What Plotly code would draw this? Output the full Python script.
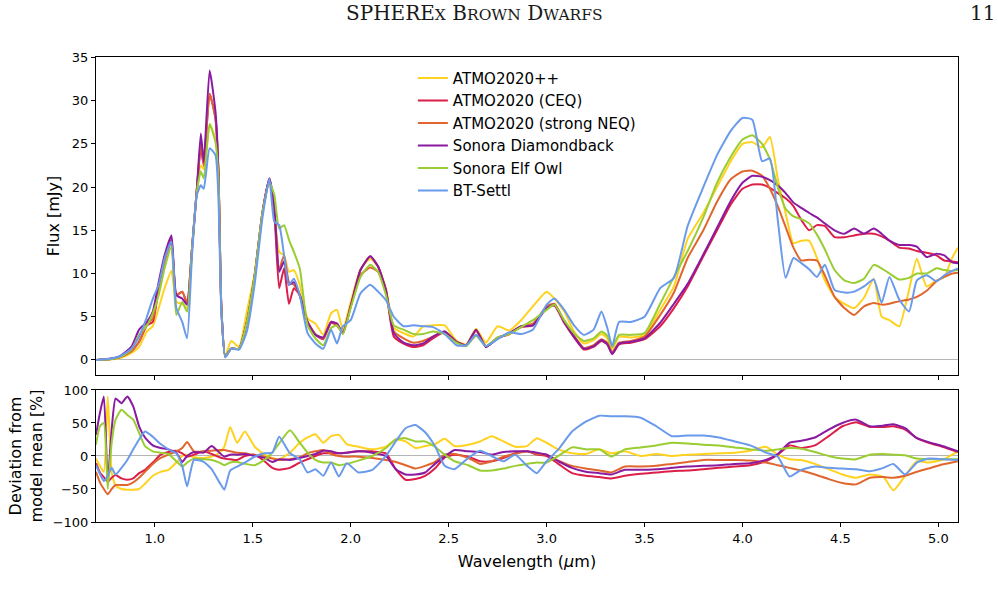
import plotly.graph_objects as go

# ---------------- top panel: model spectra (mJy) ----------------
wavelength = [
    0.70, 0.76, 0.82, 0.88, 0.92, 0.96, 0.99, 1.02, 1.05, 1.085,
    1.11, 1.14, 1.165, 1.19, 1.215, 1.235, 1.25, 1.28, 1.31, 1.325,
    1.34, 1.36, 1.39, 1.43, 1.47, 1.51, 1.55, 1.585, 1.61, 1.635,
    1.66, 1.685, 1.71, 1.74, 1.78, 1.82, 1.86, 1.90, 1.93, 1.96,
    2.00, 2.05, 2.10, 2.14, 2.18, 2.22, 2.27, 2.32, 2.37, 2.42,
    2.48, 2.54, 2.59, 2.64, 2.69, 2.75, 2.81, 2.87, 2.93, 3.00,
    3.04, 3.09, 3.14, 3.19, 3.24, 3.28, 3.31, 3.335, 3.37, 3.43,
    3.50, 3.58, 3.65, 3.72, 3.80, 3.87, 3.94, 4.00, 4.05, 4.10,
    4.14, 4.18, 4.22, 4.26, 4.30, 4.34, 4.38, 4.42, 4.47, 4.52,
    4.57, 4.62, 4.67, 4.71, 4.75, 4.80, 4.85, 4.89, 4.94, 4.99,
    5.03, 5.07, 5.10]

flux_atmo_pp = [
    0, 0.05, 0.2, 0.8, 1.5, 3.3, 3.9, 6.0, 8.3, 10.3,
    6.7, 6.5, 6.0, 12.5, 19.5, 22.5, 22.1, 27.3, 25.5, 21.5,
    6.0, 0.5, 2.2, 1.5, 5.6, 10.0, 17.1, 20.8, 17.0, 12.5,
    12.1, 10.2, 10.4, 8.7, 4.8, 4.2, 2.9, 5.4, 5.8, 3.5,
    6.7, 10.5, 11.7, 10.8, 8.3, 3.7, 3.1, 2.7, 3.9, 4.0,
    4.0, 2.2, 1.8, 3.6, 2.0, 3.9, 3.4, 4.6, 6.2, 7.9,
    7.1, 5.6, 3.3, 1.9, 2.3, 3.0, 2.5, 1.3, 2.7, 2.6,
    2.9, 5.8, 8.5, 14.0, 17.0, 20.0, 23.0, 25.0, 25.2, 24.6,
    25.8, 21.0, 17.0, 13.5, 13.8, 13.8, 11.8, 9.2, 7.3, 6.5,
    6.0, 7.2, 9.4, 5.0, 4.6, 3.9, 8.1, 11.7, 8.5, 9.2,
    9.6, 11.8, 13.0]

flux_atmo_ceq = [
    0, 0.05, 0.3, 1.0, 2.1, 4.0, 4.4, 8.3, 11.5, 13.9,
    7.5, 7.9, 6.5, 12.9, 19.8, 24.5, 22.5, 30.8, 27.9, 21.8,
    6.0, 0.4, 1.3, 1.3, 4.4, 9.8, 17.1, 21.0, 17.1, 8.3,
    10.6, 6.5, 8.3, 7.5, 4.4, 2.9, 2.4, 4.3, 4.0, 3.1,
    6.2, 10.4, 12.0, 10.8, 8.0, 2.7, 1.9, 1.5, 1.7, 2.5,
    3.2, 2.1, 1.7, 3.4, 1.5, 2.5, 3.0, 3.8, 4.0, 6.0,
    6.3, 4.3, 2.6, 1.2, 1.5, 2.2, 1.8, 0.7, 1.8, 2.0,
    2.4, 3.9, 6.0, 8.5, 12.0, 15.0, 18.0, 19.8, 20.3, 20.3,
    19.9, 19.3, 18.7, 17.8, 16.2, 15.0, 15.6, 15.5, 14.2, 14.2,
    14.4, 14.6, 14.6, 14.3, 13.8, 13.0, 12.9, 12.6, 12.4, 12.1,
    11.5, 11.4, 11.3]

flux_atmo_neq = [
    0, 0.05, 0.3, 1.0, 2.1, 4.2, 4.8, 8.3, 11.4, 13.7,
    7.5, 7.9, 6.7, 12.9, 19.8, 25.0, 22.5, 30.8, 27.9, 21.8,
    6.0, 0.4, 1.3, 1.3, 4.4, 9.8, 17.1, 21.0, 17.5, 10.5,
    12.1, 9.0, 8.7, 7.5, 4.4, 3.0, 2.5, 4.4, 4.2, 3.1,
    6.2, 9.8, 10.7, 10.2, 8.0, 3.3, 2.5, 2.0, 2.2, 2.7,
    3.3, 2.1, 1.7, 3.4, 1.6, 2.6, 3.0, 3.9, 4.2, 6.2,
    6.5, 4.5, 2.8, 1.4, 1.7, 2.4, 2.0, 0.9, 2.0, 2.2,
    2.7, 5.2, 7.8, 11.8, 15.0, 18.3, 20.9, 21.8, 21.9, 21.3,
    19.8, 17.8, 15.4, 13.0, 11.5, 11.6, 11.5, 9.8, 7.3, 6.0,
    5.2, 6.2, 6.6, 6.4, 6.5, 6.8, 7.0, 7.3, 8.0, 9.1,
    9.6, 10.0, 10.1]

flux_diamondback = [
    0, 0.1, 0.4, 1.5, 3.5, 4.4, 5.6, 9.0, 12.1, 14.4,
    7.5, 7.1, 6.4, 12.9, 19.8, 26.2, 22.9, 33.5, 28.7, 21.8,
    6.0, 0.4, 1.3, 1.3, 4.4, 9.8, 17.1, 21.0, 17.9, 10.2,
    11.4, 8.7, 9.0, 7.5, 4.4, 2.9, 2.6, 4.4, 4.2, 3.1,
    6.2, 10.4, 12.0, 10.8, 8.1, 3.1, 2.0, 1.7, 1.9, 2.7,
    3.3, 2.1, 1.7, 3.5, 1.5, 2.5, 3.1, 3.9, 4.0, 6.0,
    6.4, 4.4, 2.7, 1.3, 1.6, 2.3, 1.8, 0.7, 1.9, 2.1,
    2.5, 4.3, 6.5, 8.8, 12.2, 15.3, 18.4, 20.5, 21.3, 21.2,
    20.8, 20.2, 19.3, 18.2, 17.6, 17.0, 16.5, 15.8, 15.0, 14.6,
    15.2, 14.6, 15.2, 14.6, 13.8, 13.3, 13.3, 13.1, 11.9, 12.3,
    12.1, 11.3, 11.2]

flux_elfowl = [
    0, 0.05, 0.3, 1.2, 2.9, 4.0, 5.4, 7.5, 10.6, 13.1,
    5.2, 6.7, 5.6, 12.9, 19.5, 21.8, 21.0, 27.3, 25.2, 21.0,
    5.8, 0.4, 1.3, 1.3, 4.4, 9.8, 17.1, 20.6, 19.1, 15.2,
    15.6, 13.9, 12.5, 10.6, 4.0, 2.5, 1.7, 3.7, 4.0, 3.0,
    6.0, 9.6, 11.0, 10.2, 7.5, 4.0, 3.5, 3.0, 3.0, 3.3,
    3.0, 2.0, 1.6, 2.8, 1.6, 2.6, 3.0, 3.8, 4.6, 5.8,
    6.4, 4.6, 3.1, 2.2, 2.5, 3.3, 2.8, 1.5, 2.9, 2.9,
    3.1, 6.5, 9.6, 12.6, 16.5, 20.5, 23.5, 25.5, 26.0, 25.0,
    23.2, 20.0, 17.5, 16.6, 16.3, 15.8, 14.5, 12.8, 10.4, 9.2,
    8.9, 9.4, 11.0, 10.6, 10.0, 9.3, 9.5, 10.0, 10.0, 10.6,
    10.4, 10.3, 10.4]

flux_btsettl = [
    0, 0.1, 0.4, 1.3, 2.7, 5.0, 7.1, 8.7, 11.7, 13.7,
    6.0, 4.4, 2.5, 12.1, 19.1, 20.2, 19.8, 24.5, 23.7, 18.7,
    5.5, 0.3, 1.3, 1.2, 3.3, 8.8, 16.5, 21.0, 16.0, 15.6,
    12.1, 8.7, 9.4, 7.5, 3.1, 1.9, 1.3, 3.5, 1.9, 3.9,
    4.6, 7.7, 8.7, 7.9, 6.9, 5.0, 3.9, 4.0, 3.9, 3.8,
    3.0, 1.7, 1.7, 2.9, 1.6, 2.4, 3.2, 3.0, 3.5, 6.4,
    7.1, 5.8, 4.0, 2.9, 3.5, 5.6, 3.7, 1.6, 4.4, 4.4,
    5.0, 8.3, 9.5, 15.5, 20.0, 23.7, 26.5, 28.0, 27.8, 23.0,
    23.3, 16.2, 9.5, 11.8, 11.2, 10.5, 9.6, 11.0, 8.1, 7.8,
    7.9, 8.5, 9.3, 6.6, 9.6, 7.0, 5.6, 9.2, 9.8, 9.1,
    9.8, 10.3, 10.6]

# ---------------- bottom panel: deviation from model mean (%) ----------------
wavelength_dev = [
    0.70, 0.72, 0.74, 0.76, 0.78, 0.80, 0.83, 0.86, 0.89, 0.92,
    0.95, 0.99, 1.03, 1.07, 1.11, 1.14, 1.165, 1.20, 1.25, 1.29,
    1.33, 1.355, 1.385, 1.42, 1.46, 1.51, 1.56, 1.60, 1.635, 1.69,
    1.74, 1.78, 1.82, 1.86, 1.90, 1.94, 1.98, 2.04, 2.11, 2.18,
    2.23, 2.28, 2.33, 2.38, 2.43, 2.48, 2.53, 2.60, 2.66, 2.72,
    2.78, 2.84, 2.90, 2.95, 3.00, 3.06, 3.13, 3.20, 3.27, 3.33,
    3.40, 3.48, 3.56, 3.64, 3.72, 3.80, 3.88, 3.96, 4.04, 4.12,
    4.18, 4.24, 4.30, 4.37, 4.44, 4.51, 4.58, 4.65, 4.72, 4.77,
    4.83, 4.89, 4.95, 5.02, 5.10]

dev_atmo_pp = [
    -4, -15, -24, 90, -25, -45, -50, -51, -51, -50,
    -42, -30, -24, -21, -10, 0, 2, -2, -3, -1,
    5, 14, 44, 20, 37, 14, 2, -3, -5, 5,
    20, 28, 33, 20, 30, 32, 18, 14, 10, 14,
    25, 22, 12, 15, 18, 26, 15, 17, 22, 30,
    22, 14, 15, 27, 20, 10, 4, 3, 10, 4,
    7, 0, 3, 0, 2, 3, 4, 5, 8, 14,
    2, -5, -6, -12, -20, -28, -33, -28, -32, -52,
    -30, -8, -10, -6, 7]

dev_atmo_ceq = [
    -11, -25, -32, -39, -33, -29, -34, -36, -34, -26,
    -21, -10, 2, 6, 8, 4, -1, 2, 7, 3,
    -2, -4, -5, -6, 0, 2, -8, -18, -21, -18,
    -10, -5, 0, 4, 4, 4, 5, 7, 7, 4,
    -20, -36, -35, -30, -19, -2, 2, -1, -8, -8,
    -3, 4, 7, 2, 0, -12, -26, -30, -32, -34,
    -30, -27, -25, -23, -22, -20, -18, -16, -14, -8,
    2, 16, 12, 16, 30, 45, 51, 44, 44, 45,
    40, 27, 20, 14, 6]

dev_atmo_neq = [
    -24, -40, -50, -58, -50, -44, -44, -44, -40, -33,
    -24, -12, -3, 2, 7, 12, 21, 7, 7, 8,
    9, 9, 7, 5, 4, 1, -1, -4, -6, -5,
    -2, 4, 7, 9, 3, 0, -1, -1, -3, -6,
    -9, -14, -19, -15, -9, 2, 3, -3, -12, -8,
    -1, 3, 7, 3, 2, -7, -15, -19, -22, -25,
    -16, -16, -15, -12, -9, -6, -6, -6, -7, -10,
    -14, -18, -22, -28, -35, -41, -43, -33, -32, -33,
    -30, -24, -19, -13, -8]

dev_diamondback = [
    32, 65, 90, -39, 40, 87, 80, 90, 75, 45,
    28, 16, 12, 10, 5, -9, 0, 6, 5, 15,
    5, -1, 2, 2, 3, 0, -3, -9, -5, -6,
    -3, 0, 3, 8, 7, 4, 5, 7, 5, 0,
    -20, -28, -28, -25, -12, -1, 9, 7, 6, 2,
    6, 7, 7, 5, 2, -8, -18, -24, -26, -28,
    -21, -21, -20, -18, -16, -15, -14, -12, -11, -6,
    3, 20, 23, 28, 40, 50, 55, 45, 46, 48,
    42, 27, 21, 15, 7]

dev_elfowl = [
    17, 45, 50, -50, 20, 55, 70, 62, 55, 35,
    15, 7, 5, 3, -8, -16, -10, -4, -5, -6,
    -10, -14, -10, -9, -12, -14, -6, 5, 19, 39,
    20, 5, -6, -10, -10, -14, -12, -7, 0, 12,
    25, 27, 22, 22, 14, 2, -8, -14, -22, -22,
    -19, -15, -12, -10, -10, 0, 13, 10, 10, -1,
    10, 13, 16, 20, 19, 17, 16, 13, 10, 8,
    10, 12, 11, 6, 0, -4, -5, 2, 3, 2,
    1, -4, -5, -5, -5]

dev_btsettl = [
    -14, -27, -38, -30, -18, -28, -18, -6, 10, 25,
    37, 29, 18, 10, 4, -15, -46, -6, -9, -20,
    -40, -51, -22, -16, -10, -1, 4, 5, 29, 4,
    -5, -25, -20, -30, -10, -31, -11, -25, -21, 0,
    22, 42, 47, 36, 15, -15, -20, -3, 8, 0,
    -8, 2, -15, -26, -8, 10, 37, 52, 61, 60,
    60, 58, 45, 30, 31, 31, 28, 22, 16, 5,
    -1, -31, -21, -16, -18, -19, -20, -23, -18, -12,
    -28, -10, -4, -5, -6]

model_names = ["ATMO2020++", "ATMO2020 (CEQ)", "ATMO2020 (strong NEQ)",
               "Sonora Diamondback", "Sonora Elf Owl", "BT-Settl"]
model_colors = ["#FFD21F", "#DC1F4A", "#E0662E", "#8A1AA0", "#9ACD32", "#6A9AEB"]
flux_series = [flux_atmo_pp, flux_atmo_ceq, flux_atmo_neq,
               flux_diamondback, flux_elfowl, flux_btsettl]
dev_series = [dev_atmo_pp, dev_atmo_ceq, dev_atmo_neq,
              dev_diamondback, dev_elfowl, dev_btsettl]

x_ticks = [1.0, 1.5, 2.0, 2.5, 3.0, 3.5, 4.0, 4.5, 5.0]
x_ticktext = ["1.0", "1.5", "2.0", "2.5", "3.0", "3.5", "4.0", "4.5", "5.0"]
flux_ticks = [0, 5, 10, 15, 20, 25, 30, 35]
dev_ticks = [-100, -50, 0, 50, 100]

fig = go.Figure()
for name, color, flux, dev in zip(model_names, model_colors, flux_series, dev_series):
    fig.add_trace(go.Scatter(
        x=wavelength, y=flux, xaxis="x2", yaxis="y2", mode="lines",
        name=name, legendgroup=name,
        line=dict(color=color, width=2, shape="spline", smoothing=0.5)))
    fig.add_trace(go.Scatter(
        x=wavelength_dev, y=dev, xaxis="x", yaxis="y", mode="lines",
        name=name, legendgroup=name, showlegend=False,
        line=dict(color=color, width=2, shape="spline", smoothing=0.5)))

axis_common = dict(showline=True, linecolor="black", linewidth=1, mirror=True,
                   ticks="outside", ticklen=4, tickcolor="black",
                   showgrid=False, tickfont=dict(size=13))

header_font = dict(family="DejaVu Serif", size=20, color="#1a1a1a")

fig.update_layout(
    width=998, height=598,
    margin=dict(l=96, r=40, t=57, b=76),
    paper_bgcolor="white", plot_bgcolor="white",
    font=dict(family="DejaVu Sans", color="black", size=13),
    xaxis=dict(domain=[0, 1], anchor="y", range=[0.7, 5.1],
               tickvals=x_ticks, ticktext=x_ticktext,
               title=dict(text="Wavelength (<i>μ</i>m)", font=dict(size=16), standoff=11),
               zeroline=False, **axis_common),
    xaxis2=dict(domain=[0, 1], anchor="y2", matches="x", range=[0.7, 5.1],
                tickvals=x_ticks, showticklabels=False, zeroline=False, **axis_common),
    yaxis=dict(domain=[0, 0.284], anchor="x", range=[-100, 100], tickvals=dev_ticks,
               zeroline=True, zerolinecolor="#b5b5b5", zerolinewidth=1,
               title=dict(text="Deviation from<br>model mean [%]", font=dict(size=16), standoff=6),
               **axis_common),
    yaxis2=dict(domain=[0.316, 1], anchor="x2", range=[-1.75, 35.05], tickvals=flux_ticks,
                zeroline=True, zerolinecolor="#b5b5b5", zerolinewidth=1,
                title=dict(text="Flux [mJy]", font=dict(size=16), standoff=8),
                **axis_common),
    legend=dict(x=0.3676, y=0.99, xanchor="left", yanchor="top",
                font=dict(size=15), bgcolor="rgba(0,0,0,0)",
                tracegroupgap=0, itemwidth=30),
    showlegend=True,
    annotations=[
        dict(text="SPHERE<span style='font-size:15.5px'>X</span> B<span style='font-size:15.5px'>ROWN</span> "
                  "D<span style='font-size:15.5px'>WARFS</span>",
             xref="paper", yref="paper", x=(474 - 96) / 862, y=(522 - 13) / 465,
             xanchor="center", yanchor="middle", showarrow=False, font=header_font),
        dict(text="11", xref="paper", yref="paper", x=(982 - 96) / 862, y=(522 - 13) / 465,
             xanchor="center", yanchor="middle", showarrow=False, font=header_font),
    ],
)

fig.write_html("out.html")
